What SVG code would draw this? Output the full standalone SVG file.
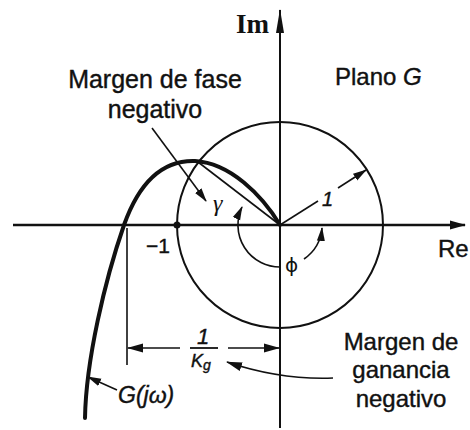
<svg xmlns="http://www.w3.org/2000/svg" width="470" height="430" viewBox="0 0 470 430">
<style>
.ax{stroke:#111;fill:none}
.thin{stroke:#111;stroke-width:1.6;fill:none}
.lbl{font-family:"Liberation Sans",Arial,sans-serif;fill:#111;stroke:#111;stroke-width:0.4}
.it{font-style:italic}
</style>
<defs>
<marker id="ah" markerUnits="userSpaceOnUse" markerWidth="16" markerHeight="10" refX="15" refY="5" orient="auto"><path d="M0,0.5 L16,5 L0,9.5 z" fill="#111"/></marker>
<marker id="ahs" markerUnits="userSpaceOnUse" markerWidth="14" markerHeight="9" refX="13" refY="4.5" orient="auto"><path d="M0,0.5 L14,4.5 L0,8.5 z" fill="#111"/></marker>
<marker id="ahL" markerUnits="userSpaceOnUse" markerWidth="24" markerHeight="10" refX="23" refY="5" orient="auto"><path d="M0,1 L24,5 L0,9 z" fill="#111"/></marker>
</defs>
<rect width="470" height="430" fill="#fff"/>

<g id="axes">
<line class="ax" x1="13" y1="225" x2="465" y2="225" stroke-width="2.6" marker-end="url(#ah)"/>
<line class="ax" x1="280" y1="428" x2="280" y2="10" stroke-width="2" marker-end="url(#ahL)"/>
<text class="lbl" x="438" y="257" font-size="24">Re</text>
<text x="236" y="33" font-size="27" font-weight="bold" font-family="'Liberation Serif','Times New Roman',serif" fill="#111">Im</text>
</g>

<g id="unit-circle">
<circle class="ax" cx="280" cy="225" r="103" stroke-width="2"/>
<circle cx="177" cy="225" r="3.5" fill="#111"/>
<text class="lbl" x="146" y="253" font-size="21">−1</text>
</g>

<g id="nyquist">
<path class="ax" stroke-width="4" stroke-linecap="round" d="M85 418 C86 360 105 280 124 225 C140 180 165 160 195 161 C230 163 262 195 280 225"/>
</g>

<g id="connectors">
<line class="thin" x1="198" y1="162" x2="280" y2="225"/>
<path class="thin" d="M280 267 A42 42 0 0 1 242 207" marker-end="url(#ahs)"/>
<path class="thin" d="M304 259 A42 42 0 0 0 322 228" marker-end="url(#ahs)"/>
<line class="thin" x1="280" y1="225" x2="318" y2="201"/>
<line class="thin" x1="338" y1="188" x2="366" y2="170" marker-end="url(#ahs)"/>
<line class="thin" x1="152" y1="128" x2="206" y2="201" marker-end="url(#ahs)"/>
<line class="thin" x1="127" y1="228" x2="127" y2="365"/>
<line class="thin" x1="180" y1="348" x2="128" y2="348" marker-end="url(#ah)"/>
<line class="thin" x1="228" y1="348" x2="279" y2="348" marker-end="url(#ah)"/>
<path class="thin" d="M333 378 Q280 380 227 362" marker-end="url(#ah)"/>
<line class="thin" x1="117" y1="390" x2="88" y2="377" marker-end="url(#ahs)"/>
</g>

<g id="labels">
<text class="lbl" x="155" y="88" font-size="25" text-anchor="middle">Margen de fase</text>
<text class="lbl" x="155" y="118" font-size="25" text-anchor="middle">negativo</text>
<text class="lbl" x="335" y="85" font-size="24">Plano <tspan class="it">G</tspan></text>
<text x="213" y="211" font-size="24" font-style="italic" font-family="'Liberation Serif','DejaVu Serif',serif" fill="#111">γ</text>
<text x="285" y="272" font-size="20" font-family="'DejaVu Sans',sans-serif" fill="#111">ϕ</text>
<text class="lbl it" x="322" y="206" font-size="20">1</text>
<text class="lbl it" x="203" y="344" font-size="22" text-anchor="middle">1</text>
<line x1="190" y1="348" x2="218" y2="348" stroke="#111" stroke-width="1.8"/>
<text class="lbl it" x="191" y="367" font-size="18">K<tspan font-size="14" dy="3">g</tspan></text>
<text class="lbl it" x="118" y="403" font-size="23">G(jω)</text>
<text class="lbl" x="401" y="350" font-size="24" text-anchor="middle">Margen de</text>
<text class="lbl" x="401" y="378" font-size="24" text-anchor="middle">ganancia</text>
<text class="lbl" x="401" y="407" font-size="24" text-anchor="middle">negativo</text>
</g>
</svg>
